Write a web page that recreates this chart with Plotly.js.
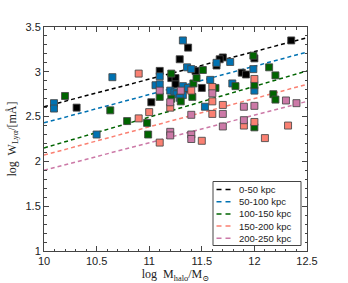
<!DOCTYPE html>
<html>
<head>
<meta charset="utf-8">
<script src="https://cdn.plot.ly/plotly-3.0.1.min.js"></script>
<style>html,body{margin:0;padding:0;background:#fff;}#chart{width:348px;height:283px;}</style>
</head>
<body>
<div id="chart"></div>
<script>
// Series labels and colours
const seriesNames = ["0-50 kpc", "50-100 kpc", "100-150 kpc", "150-200 kpc", "200-250 kpc"];
const seriesColors = ["#000000", "#0072b2", "#006400", "#fa8072", "#cc79a7"];

// 0-50 kpc
const mhalo0 = [10.31, 11.10, 11.21, 11.25, 11.29, 11.37, 11.44, 11.50, 11.37, 11.25, 11.70, 11.67, 11.64, 11.88, 11.92, 12.00, 12.35, 11.02];
const wlya0  = [2.60, 3.01, 2.93, 2.93, 3.14, 3.27, 3.01, 2.82, 2.81, 2.86, 3.16, 3.14, 3.07, 2.99, 2.97, 3.15, 3.35, 2.66];
// 50-100 kpc
const mhalo1 = [10.095, 10.095, 10.65, 10.50, 11.32, 11.36, 11.40, 11.10, 11.06, 11.10, 11.32, 11.20, 11.24, 11.26, 11.32, 11.29, 11.64, 11.77, 11.58, 11.79, 11.99, 12.00, 11.53, 11.37];
const wlya1  = [2.65, 2.59, 2.94, 2.30, 3.35, 3.05, 3.03, 2.95, 2.85, 2.86, 2.84, 2.79, 2.77, 2.75, 2.74, 2.71, 3.10, 3.11, 2.91, 2.87, 3.03, 2.79, 2.61, 2.82];
// 100-150 kpc
const mhalo2 = [10.20, 10.63, 10.79, 10.98, 10.99, 11.21, 11.10, 11.21, 11.30, 11.42, 11.45, 11.51, 11.41, 11.63, 11.82, 11.99, 12.14, 12.20, 12.00, 12.18, 12.20, 12.00];
const wlya2  = [2.73, 2.57, 2.45, 2.43, 2.30, 2.98, 2.72, 2.70, 2.67, 2.87, 2.93, 3.02, 2.72, 2.82, 2.84, 3.18, 3.05, 2.96, 2.85, 2.75, 2.69, 2.38];
// 150-200 kpc
const mhalo3 = [10.90, 10.90, 11.00, 11.40, 11.20, 11.10, 11.60, 11.60, 11.70, 11.60, 11.90, 11.50, 12.00, 12.00, 12.32, 12.10];
const wlya3  = [2.98, 2.48, 2.55, 2.79, 2.60, 2.21, 2.83, 2.67, 2.63, 2.53, 2.40, 2.23, 2.92, 2.44, 2.40, 2.26];
// 200-250 kpc
const mhalo4 = [11.10, 11.30, 11.20, 11.40, 11.20, 11.20, 11.40, 11.40, 11.60, 11.70, 11.70, 11.90, 11.90, 12.00, 12.30, 12.40];
const wlya4  = [2.79, 2.79, 2.66, 2.52, 2.33, 2.29, 2.30, 2.25, 2.76, 2.53, 2.39, 2.61, 2.46, 2.62, 2.68, 2.65];

// Fit lines (endpoints)
const fitX = [10, 12.5];
const fit0 = [2.61, 3.38];
const fit1 = [2.43, 3.22];
const fit2 = [2.15, 3.01];
const fit3 = [2.07, 2.86];
const fit4 = [1.90, 2.67];

const mhalos = [mhalo0, mhalo1, mhalo2, mhalo3, mhalo4];
const wlyas = [wlya0, wlya1, wlya2, wlya3, wlya4];
const fits = [fit0, fit1, fit2, fit3, fit4];

const traces = [];
for (let i = 0; i < 5; i++) {
  traces.push({
    x: fitX, y: fits[i], mode: 'lines', type: 'scatter', name: seriesNames[i],
    line: {color: seriesColors[i], dash: '4px,3px', width: 1.5},
    showlegend: false, hoverinfo: 'skip'
  });
}
for (let i = 0; i < 5; i++) {
  traces.push({
    x: mhalos[i], y: wlyas[i], mode: 'markers', type: 'scatter', name: seriesNames[i],
    marker: {symbol: 'square', size: 7, color: seriesColors[i], line: {color: 'rgba(70,70,70,0.85)', width: 1}},
    showlegend: false
  });
}

// Compact legend box (paper coordinates)
const W = 348, H = 283, ML = 44, MR = 41, MT = 27, MB = 32;
const pw = W - ML - MR, ph = H - MT - MB;
const px = v => (v - ML) / pw;
const py = v => (H - MB - v) / ph;
const shapes = [{
  type: 'rect', xref: 'paper', yref: 'paper',
  x0: px(213), x1: px(301), y0: py(245.5), y1: py(181.5),
  line: {color: '#444', width: 1}, fillcolor: '#fff', layer: 'above'
}];
const annotations = [];
for (let i = 0; i < 5; i++) {
  const yy = 189.5 + i * 12.2;
  shapes.push({
    type: 'line', xref: 'paper', yref: 'paper',
    x0: px(216.5), x1: px(231), y0: py(yy), y1: py(yy),
    line: {color: seriesColors[i], width: 1.5, dash: '5px,4px'}, layer: 'above'
  });
  annotations.push({
    xref: 'paper', yref: 'paper', x: px(236.5), y: py(yy), xanchor: 'left', yanchor: 'middle',
    text: seriesNames[i], showarrow: false,
    font: {family: 'Liberation Sans, Arial, sans-serif', size: 9.5, color: '#222'}
  });
}

const axCommon = {
  showgrid: false, zeroline: false, showline: true, linecolor: '#444', linewidth: 1,
  mirror: 'allticks', ticks: 'inside', ticklen: 5, tickcolor: '#444', tickwidth: 1,
  tickfont: {family: 'Liberation Sans, Arial, sans-serif', size: 11, color: '#222'},
  minor: {dtick: 0.1, ticks: 'inside', ticklen: 2.5, tickcolor: '#444', tickwidth: 1}
};

const layout = {
  width: W, height: H,
  margin: {l: ML, r: MR, t: MT, b: MB},
  paper_bgcolor: '#fff', plot_bgcolor: '#fff',
  xaxis: Object.assign({}, axCommon, {
    range: [10, 12.5], dtick: 0.5, tick0: 10,
    title: {text: 'log  M<sub>halo</sub>/M<sub>⊙</sub>', font: {family: 'Liberation Serif, DejaVu Serif, serif', size: 12, color: '#222'}, standoff: 4}
  }),
  yaxis: Object.assign({}, axCommon, {
    range: [1, 3.5], dtick: 0.5, tick0: 1,
    title: {text: 'log  W<sub>Lyα</sub>/[mÅ]', font: {family: 'Liberation Serif, DejaVu Serif, serif', size: 12, color: '#222'}, standoff: 6}
  }),
  showlegend: false,
  shapes: shapes,
  annotations: annotations
};

Plotly.newPlot('chart', traces, layout, {staticPlot: true, displayModeBar: false});
</script>
</body>
</html>
